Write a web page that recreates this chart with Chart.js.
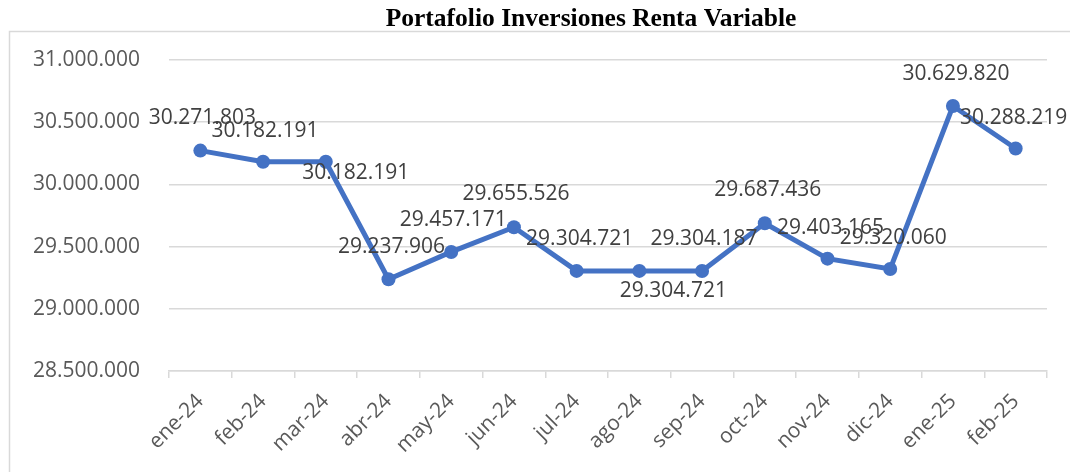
<!DOCTYPE html>
<html>
<head>
<meta charset="utf-8">
<script src="https://cdn.jsdelivr.net/npm/chart.js@4.4.1/dist/chart.umd.min.js"></script>
<style>
  html, body { margin: 0; padding: 0; background: #ffffff; }
  #wrap { width: 1070px; height: 472px; }
</style>
</head>
<body>
<div id="wrap"><canvas id="chart" width="1070" height="472"></canvas></div>
<script>
// Monthly portfolio value (variable income)
const months = ['ene-24', 'feb-24', 'mar-24', 'abr-24', 'may-24', 'jun-24', 'jul-24',
                'ago-24', 'sep-24', 'oct-24', 'nov-24', 'dic-24', 'ene-25', 'feb-25'];
const portfolioValues = [30271803, 30182191, 30182191, 29237906, 29457171, 29655526, 29304721,
                         29304721, 29304187, 29687436, 29403165, 29320060, 30629820, 30288219];
const yTickValues = [28500000, 29000000, 29500000, 30000000, 30500000, 31000000];
const chartTitle = 'Portafolio Inversiones Renta Variable';

// Where each value label sits relative to its point (pixels)
const labelOffsets = [
  [2, -33], [2, -31], [30, 11], [3, -32], [2, -32], [2, -33], [3, -32],
  [34, 20], [2, -32], [3, -33], [3, -31], [3, -31], [3, -32], [-2, -31]
];

const fmt = v => Math.round(v).toString().replace(/\B(?=(\d{3})+(?!\d))/g, '.');

const LABEL_FONT = '21px "Open Sans"';

// Outer frame and title
const framePlugin = {
  id: 'frame',
  beforeDraw(chart) {
    const ctx = chart.ctx;
    ctx.save();
    ctx.fillStyle = '#ffffff';
    ctx.fillRect(0, 0, chart.width, chart.height);
    ctx.strokeStyle = '#d9d9d9';
    ctx.lineWidth = 1.5;
    ctx.strokeRect(9.5, 31.5, chart.width + 100, chart.height + 100);
    ctx.fillStyle = '#000000';
    ctx.font = 'bold 25.5px "Liberation Serif"';
    ctx.textAlign = 'center';
    ctx.textBaseline = 'alphabetic';
    ctx.fillText(chartTitle, 591, 26);
    ctx.restore();
  }
};

// Value labels next to the points
const valueLabelPlugin = {
  id: 'valueLabels',
  afterDatasetsDraw(chart) {
    const ctx = chart.ctx;
    const meta = chart.getDatasetMeta(0);
    ctx.save();
    ctx.font = LABEL_FONT;
    ctx.fillStyle = '#404040';
    ctx.textAlign = 'center';
    ctx.textBaseline = 'middle';
    meta.data.forEach((pt, i) => {
      const [dx, dy] = labelOffsets[i];
      ctx.fillText(fmt(chart.data.datasets[0].data[i]), pt.x + dx, pt.y + dy);
    });
    ctx.restore();
  }
};

new Chart(document.getElementById('chart'), {
  type: 'line',
  data: {
    labels: months,
    datasets: [{
      data: portfolioValues,
      borderColor: '#4472C4',
      backgroundColor: '#4472C4',
      borderWidth: 5,
      pointRadius: 7,
      pointHoverRadius: 7,
      pointBackgroundColor: '#4472C4',
      pointBorderColor: '#4472C4',
      pointBorderWidth: 0,
      tension: 0,
      fill: false
    }]
  },
  options: {
    responsive: false,
    animation: false,
    events: [],
    layout: { padding: { top: 60, right: 23, bottom: 0, left: 0 } },
    plugins: {
      legend: { display: false },
      title: { display: false },
      tooltip: { enabled: false }
    },
    scales: {
      x: {
        type: 'category',
        offset: true,
        grid: {
          display: true,
          offset: true,
          drawOnChartArea: false,
          drawTicks: true,
          tickLength: 7,
          color: '#d9d9d9',
          lineWidth: 1.5
        },
        border: { display: true, color: '#d9d9d9', width: 1.5 },
        ticks: {
          color: '#595959',
          font: { family: 'Open Sans', size: 21 },
          maxRotation: 45,
          minRotation: 45,
          padding: 11,
          autoSkip: false
        },
        afterFit(scale) { scale.height = 101; }
      },
      y: {
        min: 28500000,
        max: 31000000,
        afterBuildTicks(scale) { scale.ticks = yTickValues.map(v => ({ value: v })); },
        grid: {
          color: '#d9d9d9',
          lineWidth: 1.5,
          drawTicks: false
        },
        border: { display: false },
        ticks: {
          color: '#595959',
          font: { family: 'Open Sans', size: 21 },
          padding: 29,
          callback: v => fmt(v)
        },
        afterFit(scale) { scale.width = 169; }
      }
    }
  },
  plugins: [framePlugin, valueLabelPlugin]
});
</script>
</body>
</html>
